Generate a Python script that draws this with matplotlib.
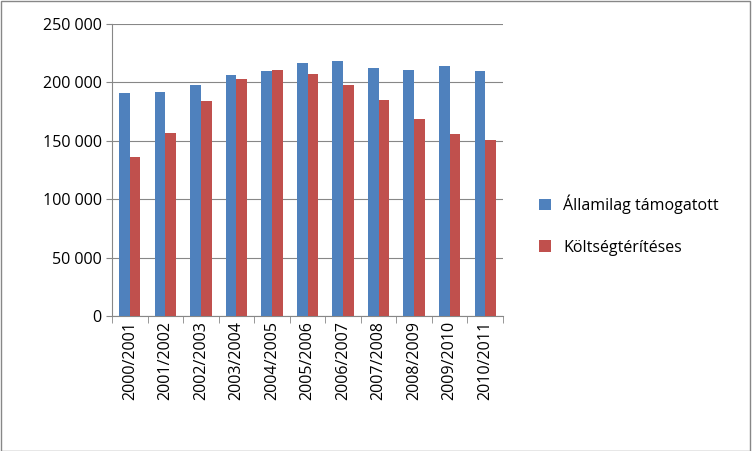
import matplotlib
matplotlib.use("Agg")
import matplotlib.pyplot as plt
import numpy as np
from matplotlib.ticker import FuncFormatter

categories = ["2000/2001","2001/2002","2002/2003","2003/2004","2004/2005","2005/2006",
              "2006/2007","2007/2008","2008/2009","2009/2010","2010/2011"]
allami = [191000,192000,198000,206000,210000,217000,218000,212000,211000,214000,210000]
koltseg = [136000,157000,184000,203000,211000,207000,198000,185000,169000,156000,151000]

plt.rcParams["font.family"] = "Open Sans"
fig = plt.figure(figsize=(7.52,4.51), dpi=100)
ax = fig.add_axes([112/752, 1-316/451, 391/752, 292/451])
x = np.arange(len(categories))
w = 0.3
ax.bar(x-w/2, allami, w, color="#4F81BD", label="Államilag támogatott", zorder=3)
ax.bar(x+w/2, koltseg, w, color="#C0504D", label="Költségtérítéses", zorder=3)
ax.set_xlim(-0.5, len(categories)-0.5)
ax.set_ylim(0, 250000)
ax.set_yticks(range(0, 250001, 50000))
ax.yaxis.set_major_formatter(FuncFormatter(lambda v, p: f"{int(v):,}".replace(",", " ")))
ax.grid(axis="y", color="#878787", lw=0.8, zorder=0)
ax.set_xticks(x)
ax.set_xticklabels(categories, rotation=90)
ax.tick_params(labelsize=11.5, length=4, color="#878787")
for s in ["top","right"]:
    ax.spines[s].set_visible(False)
for s in ["left","bottom"]:
    ax.spines[s].set_color("#878787")
ax.set_xticks(np.arange(-0.5, len(categories)), minor=True)
ax.tick_params(axis="x", which="major", length=0)
ax.tick_params(axis="x", which="minor", length=5, color="#878787")
fig.legend(loc="center left", bbox_to_anchor=(525/752, 1-225/451), frameon=False,
           fontsize=11.5, handlelength=0.7, handleheight=0.7, labelspacing=1.6)
fig.patches.append(plt.Rectangle((0.001,0.001),0.997,0.997, transform=fig.transFigure,
                                 fill=False, ec="#878787", lw=1))
fig.savefig("out.png", dpi=100)
